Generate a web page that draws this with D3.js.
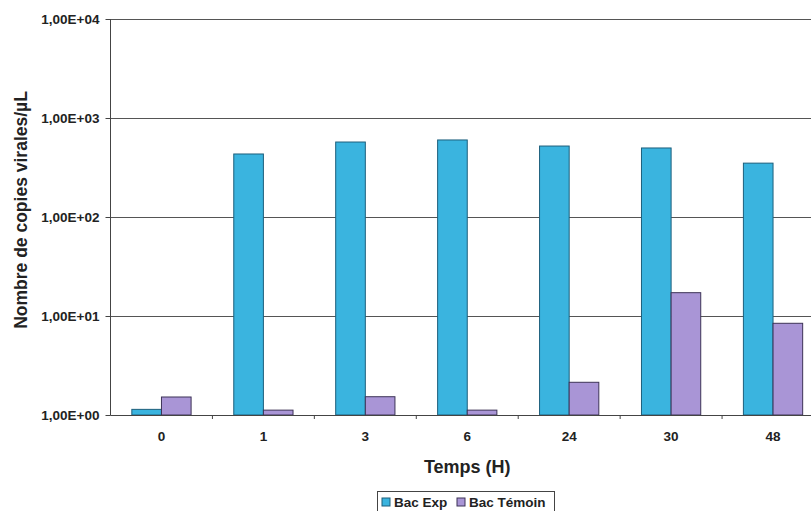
<!DOCTYPE html>
<html>
<head>
<meta charset="utf-8">
<script src="https://cdn.jsdelivr.net/npm/d3@7"></script>
<style>
  body { margin: 0; background: #fff; }
  text { font-family: Arial, "Liberation Sans", sans-serif; font-weight: bold; fill: #222; }
</style>
</head>
<body>
<svg width="811" height="511"></svg>
<script>
const categories = ['0', '1', '3', '6', '24', '30', '48'];
const bacExp = [1.14, 433, 572, 600, 521, 498, 350];
const bacTemoin = [1.52, 1.12, 1.53, 1.12, 2.14, 17.2, 8.44];
const seriesNames = ['Bac Exp', 'Bac Témoin'];
const yTicks = [1, 10, 100, 1000, 10000];
const colors = ['#3ab4df', '#a995d6'];
const strokes = ['#1d5f7c', '#3d3357'];

const svg = d3.select('svg');
const pLeft = 110.5, pRight = 824, pTop = 19, pBottom = 415;

const x = d3.scaleBand().domain(categories).range([pLeft, pRight]).padding(0);
const xs = d3.scaleBand().domain(seriesNames).range([0, x.bandwidth()])
  .paddingInner(0).paddingOuter(0.72);
const y = d3.scaleLog().domain([1, 10000]).range([pBottom, pTop]);

const fmt = v => '1,00E+' + String(Math.round(Math.log10(v))).padStart(2, '0');

// gridlines
svg.append('g').selectAll('line').data(yTicks).enter()
  .append('line')
  .attr('x1', pLeft).attr('x2', pRight)
  .attr('y1', d => Math.round(y(d)) + 0.5).attr('y2', d => Math.round(y(d)) + 0.5)
  .attr('stroke', '#555').attr('stroke-width', 1);

// bars
const rows = categories.map((c, i) => ({cat: c, vals: [bacExp[i], bacTemoin[i]]}));
const groups = svg.append('g').selectAll('g').data(rows).enter()
  .append('g').attr('transform', d => 'translate(' + x(d.cat) + ',0)');
groups.selectAll('rect').data(d => d.vals.map((v, k) => ({v, k}))).enter()
  .append('rect')
  .attr('x', d => xs(seriesNames[d.k]))
  .attr('width', xs.bandwidth())
  .attr('y', d => y(d.v))
  .attr('height', d => pBottom - y(d.v))
  .attr('fill', d => colors[d.k])
  .attr('stroke', d => strokes[d.k])
  .attr('stroke-width', 1);

// y axis
const yAx = svg.append('g').attr('transform', 'translate(' + pLeft + ',0)')
  .call(d3.axisLeft(y).tickValues(yTicks).tickFormat(fmt).tickSize(5).tickPadding(6));
yAx.selectAll('text').style('font-size', '13.5px');
yAx.selectAll('path, line').attr('stroke', '#444');
yAx.select('.domain').attr('d', 'M0,' + pTop + 'V' + pBottom);

// x axis
const xAx = svg.append('g').attr('transform', 'translate(0,' + pBottom + ')')
  .call(d3.axisBottom(x).tickSize(0).tickPadding(16));
xAx.selectAll('text').style('font-size', '13.5px');
xAx.select('.domain').attr('stroke', '#444').attr('d', 'M' + pLeft + ',0.5H' + pRight);
const bounds = categories.map(c => x(c)).concat([pRight]);
xAx.selectAll('.sep').data(bounds.slice(1)).enter()
  .append('line').attr('class', 'sep')
  .attr('x1', d => d).attr('x2', d => d)
  .attr('y1', 0).attr('y2', 4)
  .attr('stroke', '#444');

// titles
svg.append('text')
  .attr('x', (pLeft + pRight) / 2).attr('y', 473)
  .attr('text-anchor', 'middle').style('font-size', '18px')
  .text('Temps (H)');
svg.append('text')
  .attr('transform', 'translate(27,210) rotate(-90)')
  .attr('text-anchor', 'middle').style('font-size', '17.5px')
  .text('Nombre de copies virales/µL');

// legend
const lg = svg.append('g').attr('transform', 'translate(377,491)');
lg.append('rect').attr('x', 0.5).attr('y', 0.5).attr('width', 177).attr('height', 22)
  .attr('fill', '#fff').attr('stroke', '#444');
const legX = [5, 80];
seriesNames.forEach((s, k) => {
  lg.append('rect').attr('x', legX[k]).attr('y', 7).attr('width', 8).attr('height', 8)
    .attr('fill', colors[k]).attr('stroke', strokes[k]);
  lg.append('text').attr('x', legX[k] + 12).attr('y', 15.5)
    .style('font-size', '13.5px').text(s);
});
</script>
</body>
</html>
